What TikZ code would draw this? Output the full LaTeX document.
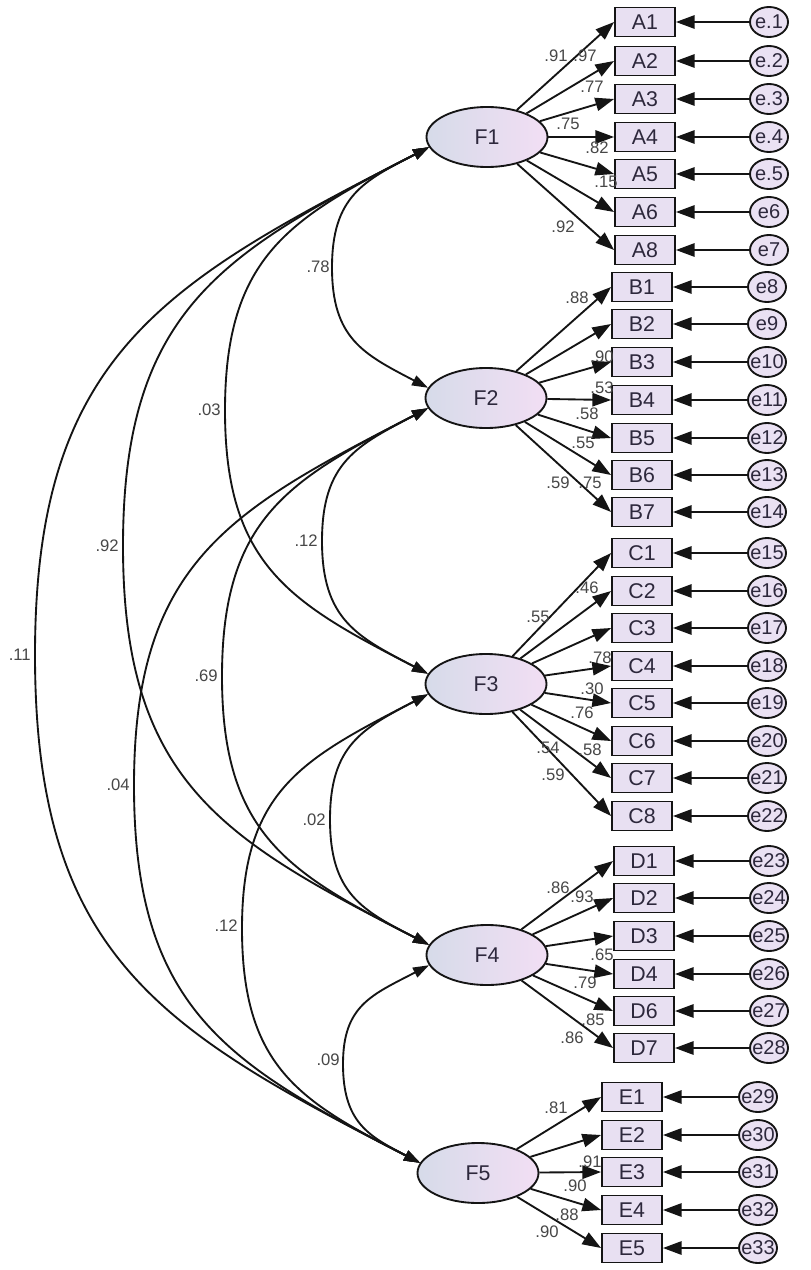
\documentclass[tikz,border=0pt]{standalone}
\usepackage{fontspec}
\setmainfont{Liberation Sans}
\usetikzlibrary{shapes.geometric,arrows.meta}
\definecolor{boxfill}{RGB}{232,224,242}
\definecolor{latL}{RGB}{214,219,233}
\definecolor{latR}{RGB}{242,222,244}
\definecolor{errfill}{RGB}{234,225,243}
\definecolor{linec}{RGB}{20,20,20}
\definecolor{txt}{RGB}{45,40,60}
\tikzset{
  lat/.style={ellipse, draw=linec, line width=1.4pt, left color=latL, right color=latR,
    minimum width=90.75pt, minimum height=45pt, inner sep=0pt,
    font=\fontsize{16}{16}\selectfont, text=txt},
  obs/.style={rectangle, draw=linec, line width=1.4pt, fill=boxfill,
    minimum width=45pt, minimum height=21.75pt, inner sep=0pt,
    font=\fontsize{16}{16}\selectfont, text=txt},
  err/.style={ellipse, draw=linec, line width=1.4pt, fill=errfill,
    minimum width=28.5pt, minimum height=22.5pt, inner sep=0pt},
  errtxt/.style={inner sep=0pt, font=\fontsize{15}{15}\selectfont, text=txt},
  load/.style={draw=linec, line width=1.4pt, -{Triangle[length=14pt,width=10pt]}},
  cov/.style={draw=linec, line width=1.4pt, {Triangle[length=12pt,width=8pt]}-{Triangle[length=12pt,width=8pt]}},
  coef/.style={font=\fontsize{12.5}{12.5}\selectfont, text=black!72, inner sep=0pt},
}
\begin{document}
\begin{tikzpicture}[x=0.75pt,y=-0.75pt]
\useasboundingbox (0,0) rectangle (810,1270);
\fill[white] (0,0) rectangle (810,1270);

% latent factors
\node[lat] (F1) at (487,137) {F1};
\node[lat] (F2) at (486,398) {F2};
\node[lat] (F3) at (486,684) {F3};
\node[lat] (F4) at (487,955) {F4};
\node[lat] (F5) at (478,1173) {F5};

% indicators A
\foreach \n/\y/\el in {A1/22/e.1, A2/61/e.2, A3/99/e.3, A4/137/e.4, A5/174/e.5, A6/212/e6, A8/250/e7}{
  \node[obs] (\n) at (645,\y) {\n};
  \node[err] (e\n) at (769,\y) {};
  \node[errtxt] (t\n) at (e\n) {\el};
  \draw[load] (e\n) -- (\n);
  \draw[load] (F1) -- (\n.west);
}
% indicators B
\foreach \n/\y/\el in {B1/287/e8, B2/324/e9, B3/362/e10, B4/400/e11, B5/438/e12, B6/475/e13, B7/512/e14}{
  \node[obs] (\n) at (642,\y) {\n};
  \node[err] (e\n) at (767,\y) {};
  \node[errtxt] (t\n) at (e\n) {\el};
  \draw[load] (e\n) -- (\n);
  \draw[load] (F2) -- (\n.west);
}
% indicators C
\foreach \n/\y/\el in {C1/553/e15, C2/591/e16, C3/628/e17, C4/666/e18, C5/703/e19, C6/741/e20, C7/778/e21, C8/816/e22}{
  \node[obs] (\n) at (642,\y) {\n};
  \node[err] (e\n) at (767,\y) {};
  \node[errtxt] (t\n) at (e\n) {\el};
  \draw[load] (e\n) -- (\n);
  \draw[load] (F3) -- (\n.west);
}
% indicators D
\foreach \n/\y/\el in {D1/861/e23, D2/898/e24, D3/936/e25, D4/974/e26, D6/1011/e27, D7/1048/e28}{
  \node[obs] (\n) at (644,\y) {\n};
  \node[err] (e\n) at (769,\y) {};
  \node[errtxt] (t\n) at (e\n) {\el};
  \draw[load] (e\n) -- (\n);
  \draw[load] (F4) -- (\n.west);
}
% indicators E
\foreach \n/\y/\el in {E1/1097/e29, E2/1135/e30, E3/1172/e31, E4/1210/e32, E5/1248/e33}{
  \node[obs] (\n) at (632,\y) {\n};
  \node[err] (e\n) at (758,\y) {};
  \node[errtxt] (t\n) at (e\n) {\el};
  \draw[load] (e\n) -- (\n);
  \draw[load] (F5) -- (\n.west);
}

% loading coefficients
\foreach \x/\y/\t in {556/56/.91, 585/56/.97, 592/87/.77, 568/124/.75, 597/148/.82, 606/182/.15, 563/227/.92,
  577/298/.88, 602/357/.90, 602/388/.53, 587/414/.58, 583/443/.55, 558/483/.59, 590/483/.75,
  587/588/.46, 538/617/.55, 600/658/.78, 592/689/.30, 582/713/.76, 548/748/.54, 590/750/.58, 553/775/.59,
  558/888/.86, 582/897/.93, 602/955/.65, 585/983/.79, 593/1020/.85, 572/1038/.86,
  556/1108/.81, 590/1162/.91, 575/1186/.90, 567/1215/.88, 547/1232/.90}{
  \node[coef] (c\x-\y) at (\x,\y) {\t};
}

% covariances
\draw[cov] (F1.190) .. controls (363.6,180.8) and (332,196.4) .. (332,267.5)
                   .. controls (332,338.6) and (363.6,354.2) .. (F2.170);
\draw[cov] (F2.190) .. controls (356.9,445.3) and (322,462.5) .. (322,541)
                   .. controls (322,619.5) and (356.9,636.7) .. (F3.170);
\draw[cov] (F3.190) .. controls (362.3,728.5) and (330,745.5) .. (330,819.5)
                   .. controls (330,893.5) and (362.3,910.5) .. (F4.170);
\draw[cov] (F4.190) .. controls (371.5,995) and (343,1005.6) .. (343,1064)
                   .. controls (343,1122.4) and (368.6,1136.1) .. (F5.170);
\draw[cov] (F1.190) .. controls (291.2,217.7) and (225,255) .. (225,410.5)
                   .. controls (225,566) and (291.2,603.3) .. (F3.170);
\draw[cov] (F2.190) .. controls (289.1,479.8) and (222,518.1) .. (222,676.5)
                   .. controls (222,834.9) and (289.1,873.2) .. (F4.170);
\draw[cov] (F3.190) .. controls (302.7,758.9) and (242,790.1) .. (242,928.5)
                   .. controls (242,1066.9) and (299.8,1101.3) .. (F5.170);
\draw[cov] (F1.190) .. controls (222.1,252.9) and (123,310.6) .. (123,546)
                   .. controls (123,781.4) and (222.1,839.1) .. (F4.170);
\draw[cov] (F2.190) .. controls (229.5,510.1) and (134,562.8) .. (134,785.5)
                   .. controls (134,1008.2) and (226.7,1064) .. (F5.170);
\draw[cov] (F1.190) .. controls (162.5,283.3) and (35,355.3) .. (35,655)
                   .. controls (35,954.7) and (160,1029.8) .. (F5.170);

% covariance labels
\node[coef,anchor=east] (k12) at (330,267) {.78};
\node[coef,anchor=east] (k23) at (318,541) {.12};
\node[coef,anchor=east] (k34) at (326,820) {.02};
\node[coef,anchor=east] (k45) at (340,1060) {.09};
\node[coef,anchor=east] (k13) at (221,410) {.03};
\node[coef,anchor=east] (k24) at (218,676) {.69};
\node[coef,anchor=east] (k35) at (238,926) {.12};
\node[coef,anchor=east] (k14) at (119,546) {.92};
\node[coef,anchor=east] (k25) at (130,785) {.04};
\node[coef,anchor=east] (k15) at (31,655) {.11};
\end{tikzpicture}
\end{document}
